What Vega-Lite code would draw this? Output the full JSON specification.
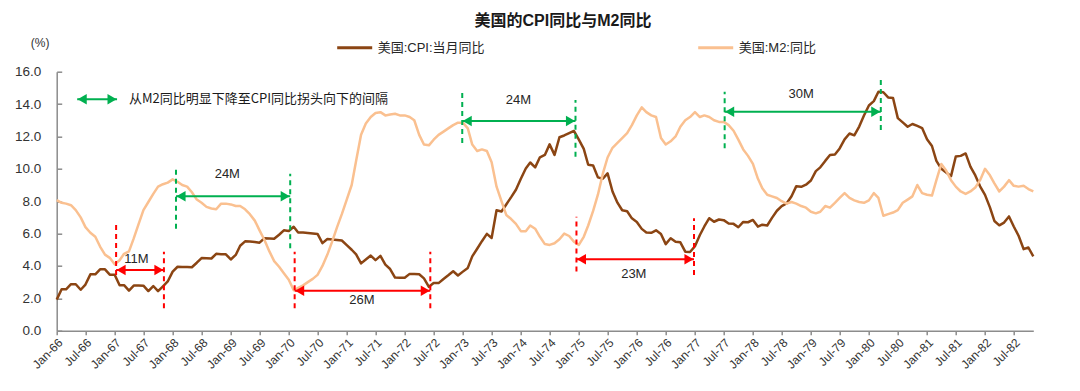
{
  "$schema": "https://vega.github.io/schema/vega-lite/v6.json",
  "width": 976.6,
  "height": 259,
  "autosize": {"type": "none"},
  "padding": {"left": 56.7, "top": 71.7, "right": 46.7, "bottom": 60.3},
  "background": "white",
  "config": {"view": {"stroke": null}, "font": "Liberation Sans, Noto Sans CJK SC"},
  "title": {"text": "美国的CPI同比与M2同比", "fontSize": 16, "fontWeight": "bold", "anchor": "middle", "dx": 18, "offset": 0, "color": "#1a1a1a", "font": "Liberation Sans, Noto Sans CJK SC"},
  "datasets": {
    "series": [
      {"d":"1966-01","cpi":1.92,"m2":8.07},{"d":"1966-02","cpi":2.56,"m2":7.9},{"d":"1966-03","cpi":2.56,"m2":7.85},{"d":"1966-04","cpi":2.87,"m2":7.75},{"d":"1966-05","cpi":2.87,"m2":7.45},{"d":"1966-06","cpi":2.53,"m2":7.0},{"d":"1966-07","cpi":2.85,"m2":6.4},{"d":"1966-08","cpi":3.48,"m2":6.05},{"d":"1966-09","cpi":3.48,"m2":5.8},{"d":"1966-10","cpi":3.79,"m2":5.2},{"d":"1966-11","cpi":3.79,"m2":4.7},{"d":"1966-12","cpi":3.46,"m2":4.5},
      {"d":"1967-01","cpi":3.46,"m2":4.1},{"d":"1967-02","cpi":2.81,"m2":4.35},{"d":"1967-03","cpi":2.81,"m2":4.75},{"d":"1967-04","cpi":2.48,"m2":4.9},{"d":"1967-05","cpi":2.79,"m2":5.7},{"d":"1967-06","cpi":2.79,"m2":6.6},{"d":"1967-07","cpi":2.78,"m2":7.45},{"d":"1967-08","cpi":2.45,"m2":7.95},{"d":"1967-09","cpi":2.76,"m2":8.45},{"d":"1967-10","cpi":2.44,"m2":8.9},{"d":"1967-11","cpi":2.74,"m2":9.05},{"d":"1967-12","cpi":3.04,"m2":9.15},
      {"d":"1968-01","cpi":3.65,"m2":9.35},{"d":"1968-02","cpi":3.95,"m2":9.2},{"d":"1968-03","cpi":3.94,"m2":9.0},{"d":"1968-04","cpi":3.93,"m2":8.9},{"d":"1968-05","cpi":3.92,"m2":8.55},{"d":"1968-06","cpi":4.2,"m2":8.1},{"d":"1968-07","cpi":4.49,"m2":7.9},{"d":"1968-08","cpi":4.48,"m2":7.65},{"d":"1968-09","cpi":4.46,"m2":7.55},{"d":"1968-10","cpi":4.75,"m2":7.5},{"d":"1968-11","cpi":4.73,"m2":7.85},{"d":"1968-12","cpi":4.72,"m2":7.85},
      {"d":"1969-01","cpi":4.4,"m2":7.8},{"d":"1969-02","cpi":4.68,"m2":7.7},{"d":"1969-03","cpi":5.25,"m2":7.7},{"d":"1969-04","cpi":5.52,"m2":7.5},{"d":"1969-05","cpi":5.51,"m2":7.2},{"d":"1969-06","cpi":5.48,"m2":6.8},{"d":"1969-07","cpi":5.44,"m2":6.2},{"d":"1969-08","cpi":5.71,"m2":5.6},{"d":"1969-09","cpi":5.7,"m2":4.9},{"d":"1969-10","cpi":5.68,"m2":4.3},{"d":"1969-11","cpi":5.93,"m2":3.95},{"d":"1969-12","cpi":6.2,"m2":3.55},
      {"d":"1970-01","cpi":6.16,"m2":3.15},{"d":"1970-02","cpi":6.42,"m2":2.5},{"d":"1970-03","cpi":6.07,"m2":2.65},{"d":"1970-04","cpi":6.06,"m2":2.8},{"d":"1970-05","cpi":6.04,"m2":3.0},{"d":"1970-06","cpi":6.01,"m2":3.2},{"d":"1970-07","cpi":5.98,"m2":3.45},{"d":"1970-08","cpi":5.41,"m2":4.0},{"d":"1970-09","cpi":5.66,"m2":4.7},{"d":"1970-10","cpi":5.63,"m2":5.5},{"d":"1970-11","cpi":5.6,"m2":6.4},{"d":"1970-12","cpi":5.57,"m2":7.2},
      {"d":"1971-01","cpi":5.29,"m2":8.1},{"d":"1971-02","cpi":5.0,"m2":9.0},{"d":"1971-03","cpi":4.71,"m2":10.5},{"d":"1971-04","cpi":4.16,"m2":12.1},{"d":"1971-05","cpi":4.4,"m2":12.8},{"d":"1971-06","cpi":4.64,"m2":13.2},{"d":"1971-07","cpi":4.36,"m2":13.45},{"d":"1971-08","cpi":4.62,"m2":13.5},{"d":"1971-09","cpi":4.08,"m2":13.3},{"d":"1971-10","cpi":3.81,"m2":13.35},{"d":"1971-11","cpi":3.28,"m2":13.4},{"d":"1971-12","cpi":3.27,"m2":13.3},
      {"d":"1972-01","cpi":3.27,"m2":13.3},{"d":"1972-02","cpi":3.51,"m2":13.2},{"d":"1972-03","cpi":3.5,"m2":13.0},{"d":"1972-04","cpi":3.49,"m2":12.1},{"d":"1972-05","cpi":3.23,"m2":11.5},{"d":"1972-06","cpi":2.71,"m2":11.45},{"d":"1972-07","cpi":2.95,"m2":11.8},{"d":"1972-08","cpi":2.94,"m2":12.1},{"d":"1972-09","cpi":3.19,"m2":12.3},{"d":"1972-10","cpi":3.42,"m2":12.5},{"d":"1972-11","cpi":3.67,"m2":12.7},{"d":"1972-12","cpi":3.41,"m2":12.85},
      {"d":"1973-01","cpi":3.65,"m2":12.85},{"d":"1973-02","cpi":3.88,"m2":12.5},{"d":"1973-03","cpi":4.59,"m2":11.5},{"d":"1973-04","cpi":5.06,"m2":11.1},{"d":"1973-05","cpi":5.53,"m2":11.2},{"d":"1973-06","cpi":5.98,"m2":11.1},{"d":"1973-07","cpi":5.73,"m2":10.4},{"d":"1973-08","cpi":7.44,"m2":8.9},{"d":"1973-09","cpi":7.36,"m2":8.0},{"d":"1973-10","cpi":7.8,"m2":7.15},{"d":"1973-11","cpi":8.25,"m2":6.9},{"d":"1973-12","cpi":8.71,"m2":6.6},
      {"d":"1974-01","cpi":9.39,"m2":6.15},{"d":"1974-02","cpi":10.02,"m2":6.15},{"d":"1974-03","cpi":10.39,"m2":6.5},{"d":"1974-04","cpi":10.09,"m2":6.3},{"d":"1974-05","cpi":10.71,"m2":5.8},{"d":"1974-06","cpi":10.86,"m2":5.35},{"d":"1974-07","cpi":11.51,"m2":5.3},{"d":"1974-08","cpi":10.86,"m2":5.4},{"d":"1974-09","cpi":11.95,"m2":5.65},{"d":"1974-10","cpi":12.06,"m2":6.0},{"d":"1974-11","cpi":12.2,"m2":5.85},{"d":"1974-12","cpi":12.34,"m2":5.5},
      {"d":"1975-01","cpi":11.8,"m2":5.3},{"d":"1975-02","cpi":11.23,"m2":5.8},{"d":"1975-03","cpi":10.25,"m2":6.5},{"d":"1975-04","cpi":10.21,"m2":7.4},{"d":"1975-05","cpi":9.47,"m2":8.4},{"d":"1975-06","cpi":9.39,"m2":9.7},{"d":"1975-07","cpi":9.72,"m2":10.7},{"d":"1975-08","cpi":8.6,"m2":11.3},{"d":"1975-09","cpi":7.91,"m2":11.6},{"d":"1975-10","cpi":7.44,"m2":11.9},{"d":"1975-11","cpi":7.38,"m2":12.2},{"d":"1975-12","cpi":6.94,"m2":12.7},
      {"d":"1976-01","cpi":6.72,"m2":13.3},{"d":"1976-02","cpi":6.29,"m2":13.8},{"d":"1976-03","cpi":6.07,"m2":13.5},{"d":"1976-04","cpi":6.05,"m2":13.3},{"d":"1976-05","cpi":6.2,"m2":13.2},{"d":"1976-06","cpi":5.97,"m2":11.9},{"d":"1976-07","cpi":5.35,"m2":11.5},{"d":"1976-08","cpi":5.71,"m2":11.7},{"d":"1976-09","cpi":5.49,"m2":12.0},{"d":"1976-10","cpi":5.46,"m2":12.6},{"d":"1976-11","cpi":4.88,"m2":13.0},{"d":"1976-12","cpi":4.86,"m2":13.2},
      {"d":"1977-01","cpi":5.22,"m2":13.5},{"d":"1977-02","cpi":5.91,"m2":13.2},{"d":"1977-03","cpi":6.44,"m2":13.3},{"d":"1977-04","cpi":6.95,"m2":13.2},{"d":"1977-05","cpi":6.73,"m2":13.0},{"d":"1977-06","cpi":6.87,"m2":12.9},{"d":"1977-07","cpi":6.83,"m2":12.9},{"d":"1977-08","cpi":6.62,"m2":12.7},{"d":"1977-09","cpi":6.6,"m2":12.35},{"d":"1977-10","cpi":6.39,"m2":11.8},{"d":"1977-11","cpi":6.72,"m2":11.2},{"d":"1977-12","cpi":6.7,"m2":10.8},
      {"d":"1978-01","cpi":6.84,"m2":10.3},{"d":"1978-02","cpi":6.43,"m2":9.4},{"d":"1978-03","cpi":6.55,"m2":8.8},{"d":"1978-04","cpi":6.5,"m2":8.4},{"d":"1978-05","cpi":6.97,"m2":8.3},{"d":"1978-06","cpi":7.41,"m2":8.2},{"d":"1978-07","cpi":7.7,"m2":8.0},{"d":"1978-08","cpi":7.86,"m2":7.85},{"d":"1978-09","cpi":8.31,"m2":7.95},{"d":"1978-10","cpi":8.93,"m2":7.85},{"d":"1978-11","cpi":8.89,"m2":7.7},{"d":"1978-12","cpi":9.02,"m2":7.6},
      {"d":"1979-01","cpi":9.28,"m2":7.35},{"d":"1979-02","cpi":9.86,"m2":7.25},{"d":"1979-03","cpi":10.09,"m2":7.35},{"d":"1979-04","cpi":10.49,"m2":7.7},{"d":"1979-05","cpi":10.85,"m2":7.6},{"d":"1979-06","cpi":10.89,"m2":7.9},{"d":"1979-07","cpi":11.26,"m2":8.2},{"d":"1979-08","cpi":11.82,"m2":8.5},{"d":"1979-09","cpi":12.18,"m2":8.2},{"d":"1979-10","cpi":12.07,"m2":8.05},{"d":"1979-11","cpi":12.61,"m2":7.95},{"d":"1979-12","cpi":13.29,"m2":7.9},
      {"d":"1980-01","cpi":13.91,"m2":8.05},{"d":"1980-02","cpi":14.18,"m2":8.5},{"d":"1980-03","cpi":14.76,"m2":8.2},{"d":"1980-04","cpi":14.73,"m2":7.1},{"d":"1980-05","cpi":14.41,"m2":7.2},{"d":"1980-06","cpi":14.38,"m2":7.3},{"d":"1980-07","cpi":13.13,"m2":7.45},{"d":"1980-08","cpi":12.87,"m2":7.9},{"d":"1980-09","cpi":12.6,"m2":8.1},{"d":"1980-10","cpi":12.77,"m2":8.3},{"d":"1980-11","cpi":12.65,"m2":9.0},{"d":"1980-12","cpi":12.52,"m2":8.5},
      {"d":"1981-01","cpi":11.83,"m2":8.4},{"d":"1981-02","cpi":11.41,"m2":8.35},{"d":"1981-03","cpi":10.49,"m2":9.3},{"d":"1981-04","cpi":10.0,"m2":10.3},{"d":"1981-05","cpi":9.78,"m2":9.9},{"d":"1981-06","cpi":9.55,"m2":9.3},{"d":"1981-07","cpi":10.76,"m2":8.9},{"d":"1981-08","cpi":10.8,"m2":8.6},{"d":"1981-09","cpi":10.95,"m2":8.45},{"d":"1981-10","cpi":10.14,"m2":8.6},{"d":"1981-11","cpi":9.59,"m2":8.85},{"d":"1981-12","cpi":8.92,"m2":9.3},
      {"d":"1982-01","cpi":8.39,"m2":10.0},{"d":"1982-02","cpi":7.62,"m2":9.6},{"d":"1982-03","cpi":6.78,"m2":9.1},{"d":"1982-04","cpi":6.51,"m2":8.6},{"d":"1982-05","cpi":6.68,"m2":8.9},{"d":"1982-06","cpi":7.06,"m2":9.3},{"d":"1982-07","cpi":6.44,"m2":8.95},{"d":"1982-08","cpi":5.85,"m2":8.9},{"d":"1982-09","cpi":5.04,"m2":8.95},{"d":"1982-10","cpi":5.14,"m2":8.75},{"d":"1982-11","cpi":4.59,"m2":8.6}
    ],
    "vlines": [
      {"id":1,"d":"1968-01-22","v":6.3,"k":"peak"},{"id":1,"d":"1968-01-22","v":10.1,"k":"peak"},
      {"id":2,"d":"1970-01-10","v":5.1,"k":"peak"},{"id":2,"d":"1970-01-10","v":9.7,"k":"peak"},
      {"id":3,"d":"1967-01-10","v":3.44,"k":"trough"},{"id":3,"d":"1967-01-10","v":6.67,"k":"trough"},
      {"id":4,"d":"1967-11-07","v":1.38,"k":"trough"},{"id":4,"d":"1967-11-07","v":4.88,"k":"trough"},
      {"id":5,"d":"1970-02-07","v":1.38,"k":"trough"},{"id":5,"d":"1970-02-07","v":4.88,"k":"trough"},
      {"id":6,"d":"1972-06-10","v":1.38,"k":"trough"},{"id":6,"d":"1972-06-10","v":4.88,"k":"trough"},
      {"id":7,"d":"1972-12-28","v":11.6,"k":"peak"},{"id":7,"d":"1972-12-28","v":14.8,"k":"peak"},
      {"id":8,"d":"1974-12-11","v":10.75,"k":"peak"},{"id":8,"d":"1974-12-11","v":14.25,"k":"peak"},
      {"id":9,"d":"1974-12-17","v":3.65,"k":"trough"},{"id":9,"d":"1974-12-17","v":7.04,"k":"trough"},
      {"id":10,"d":"1976-12-26","v":3.44,"k":"trough"},{"id":10,"d":"1976-12-26","v":6.94,"k":"trough"},
      {"id":11,"d":"1977-07-07","v":11.27,"k":"peak"},{"id":11,"d":"1977-07-07","v":14.76,"k":"peak"},
      {"id":12,"d":"1980-03-16","v":12.4,"k":"peak"},{"id":12,"d":"1980-03-16","v":15.7,"k":"peak"}
    ],
    "arrows": [
      {"id":1,"end":"L","d":"1966-05-10","v":14.3,"k":"peak"},{"id":1,"end":"R","d":"1967-01-16","v":14.3,"k":"peak"},
      {"id":2,"end":"L","d":"1968-01-22","v":8.3,"k":"peak"},{"id":2,"end":"R","d":"1970-01-10","v":8.3,"k":"peak"},
      {"id":3,"end":"L","d":"1967-01-10","v":3.75,"k":"trough"},{"id":3,"end":"R","d":"1967-11-07","v":3.75,"k":"trough"},
      {"id":4,"end":"L","d":"1970-02-07","v":2.47,"k":"trough"},{"id":4,"end":"R","d":"1972-06-10","v":2.47,"k":"trough"},
      {"id":5,"end":"L","d":"1972-12-28","v":12.95,"k":"peak"},{"id":5,"end":"R","d":"1974-12-11","v":12.95,"k":"peak"},
      {"id":6,"end":"L","d":"1974-12-17","v":4.41,"k":"trough"},{"id":6,"end":"R","d":"1976-12-26","v":4.41,"k":"trough"},
      {"id":7,"end":"L","d":"1977-07-07","v":13.53,"k":"peak"},{"id":7,"end":"R","d":"1980-03-16","v":13.53,"k":"peak"}
    ],
    "labels": [
      {"d":"1968-12-10","v":9.7,"t":"24M"},
      {"d":"1967-05-18","v":4.41,"t":"11M"},
      {"d":"1971-04-06","v":1.9,"t":"26M"},
      {"d":"1973-12-16","v":14.25,"t":"24M"},
      {"d":"1975-12-13","v":3.5,"t":"23M"},
      {"d":"1978-11-01","v":14.6,"t":"30M"}
    ],
    "note": [
      {"d":"1967-04-01","v":14.3,"t":"从M2同比明显下降至CPI同比拐头向下的间隔"}
    ]
  },
  "encoding": {
    "x": {"field": "d", "type": "temporal",
      "scale": {"type": "utc", "domain": [{"year":1966,"month":1,"date":1,"utc":true},{"year":1982,"month":11,"date":1,"utc":true}]},
      "axis": {"title": null, "format": "%b-%y", "tickCount": {"interval": "month", "step": 6}, "labelAngle": -45, "labelAlign": "right", "labelBaseline": "top", "labelFontSize": 12, "labelColor": "#333333", "labelPadding": 2, "labelFlush": false, "labelOverlap": false, "labelBound": false, "grid": false, "domainColor": "#8c8c8c", "domainWidth": 1.5, "tickColor": "#8c8c8c", "tickWidth": 1.5, "tickSize": 4}},
    "y": {"field": "v", "type": "quantitative",
      "scale": {"domain": [0, 16], "nice": false, "zero": false},
      "axis": {"title": "(%)", "titleAngle": 0, "titleX": -17, "titleY": -29, "titleAlign": "center", "titleBaseline": "middle", "titleFontSize": 12, "titleFontWeight": "normal", "titleColor": "#333333", "values": [0,2,4,6,8,10,12,14,16], "format": ".1f", "labelFontSize": 13.5, "labelColor": "#333333", "labelPadding": 21, "grid": false, "domainColor": "#8c8c8c", "domainWidth": 1.5, "tickColor": "#8c8c8c", "tickWidth": 1.5, "tickSize": -5}}
  },
  "layer": [
    {
      "data": {"name": "series"},
      "transform": [{"fold": ["cpi", "m2"], "as": ["s", "v"]}],
      "mark": {"type": "line", "strokeWidth": 2.5, "strokeJoin": "round"},
      "encoding": {
        "color": {"field": "s", "type": "nominal",
          "scale": {"domain": ["cpi", "m2"], "range": ["#8B4513", "#FAC090"]},
          "legend": {"title": null, "orient": "none", "legendX": 279, "legendY": -43, "direction": "horizontal", "columnPadding": 207, "symbolType": "stroke", "symbolSize": 1225, "symbolStrokeWidth": 3, "labelFontSize": 13, "labelColor": "#262626", "labelOffset": 4, "labelExpr": "datum.label == 'cpi' ? '美国:CPI:当月同比' : '美国:M2:同比'"}}
      }
    },
    {
      "data": {"name": "vlines"},
      "mark": {"type": "line", "strokeWidth": 2, "strokeDash": [5, 4]},
      "encoding": {
        "detail": {"field": "id", "type": "nominal"},
        "stroke": {"field": "k", "type": "nominal", "scale": {"domain": ["peak", "trough"], "range": ["#00B050", "#FF0000"]}, "legend": null}
      }
    },
    {
      "data": {"name": "arrows"},
      "mark": {"type": "line", "strokeWidth": 2},
      "encoding": {
        "detail": {"field": "id", "type": "nominal"},
        "stroke": {"field": "k", "type": "nominal", "scale": {"domain": ["peak", "trough"], "range": ["#00B050", "#FF0000"]}, "legend": null}
      }
    },
    {
      "data": {"name": "arrows"},
      "transform": [{"filter": "datum.end == 'L'"}],
      "mark": {"type": "point", "shape": "triangle-left", "filled": true, "size": 110, "opacity": 1, "xOffset": 5, "strokeWidth": 0},
      "encoding": {
        "fill": {"field": "k", "type": "nominal", "scale": {"domain": ["peak", "trough"], "range": ["#00B050", "#FF0000"]}, "legend": null}
      }
    },
    {
      "data": {"name": "arrows"},
      "transform": [{"filter": "datum.end == 'R'"}],
      "mark": {"type": "point", "shape": "triangle-right", "filled": true, "size": 110, "opacity": 1, "xOffset": -5, "strokeWidth": 0},
      "encoding": {
        "fill": {"field": "k", "type": "nominal", "scale": {"domain": ["peak", "trough"], "range": ["#00B050", "#FF0000"]}, "legend": null}
      }
    },
    {
      "data": {"name": "labels"},
      "mark": {"type": "text", "fontSize": 13, "color": "#262626", "align": "center", "baseline": "middle"},
      "encoding": {"text": {"field": "t"}}
    },
    {
      "data": {"name": "note"},
      "mark": {"type": "text", "fontSize": 13, "color": "#1a1a1a", "align": "left", "baseline": "middle", "font": "Noto Sans CJK SC"},
      "encoding": {"text": {"field": "t"}}
    }
  ]
}
